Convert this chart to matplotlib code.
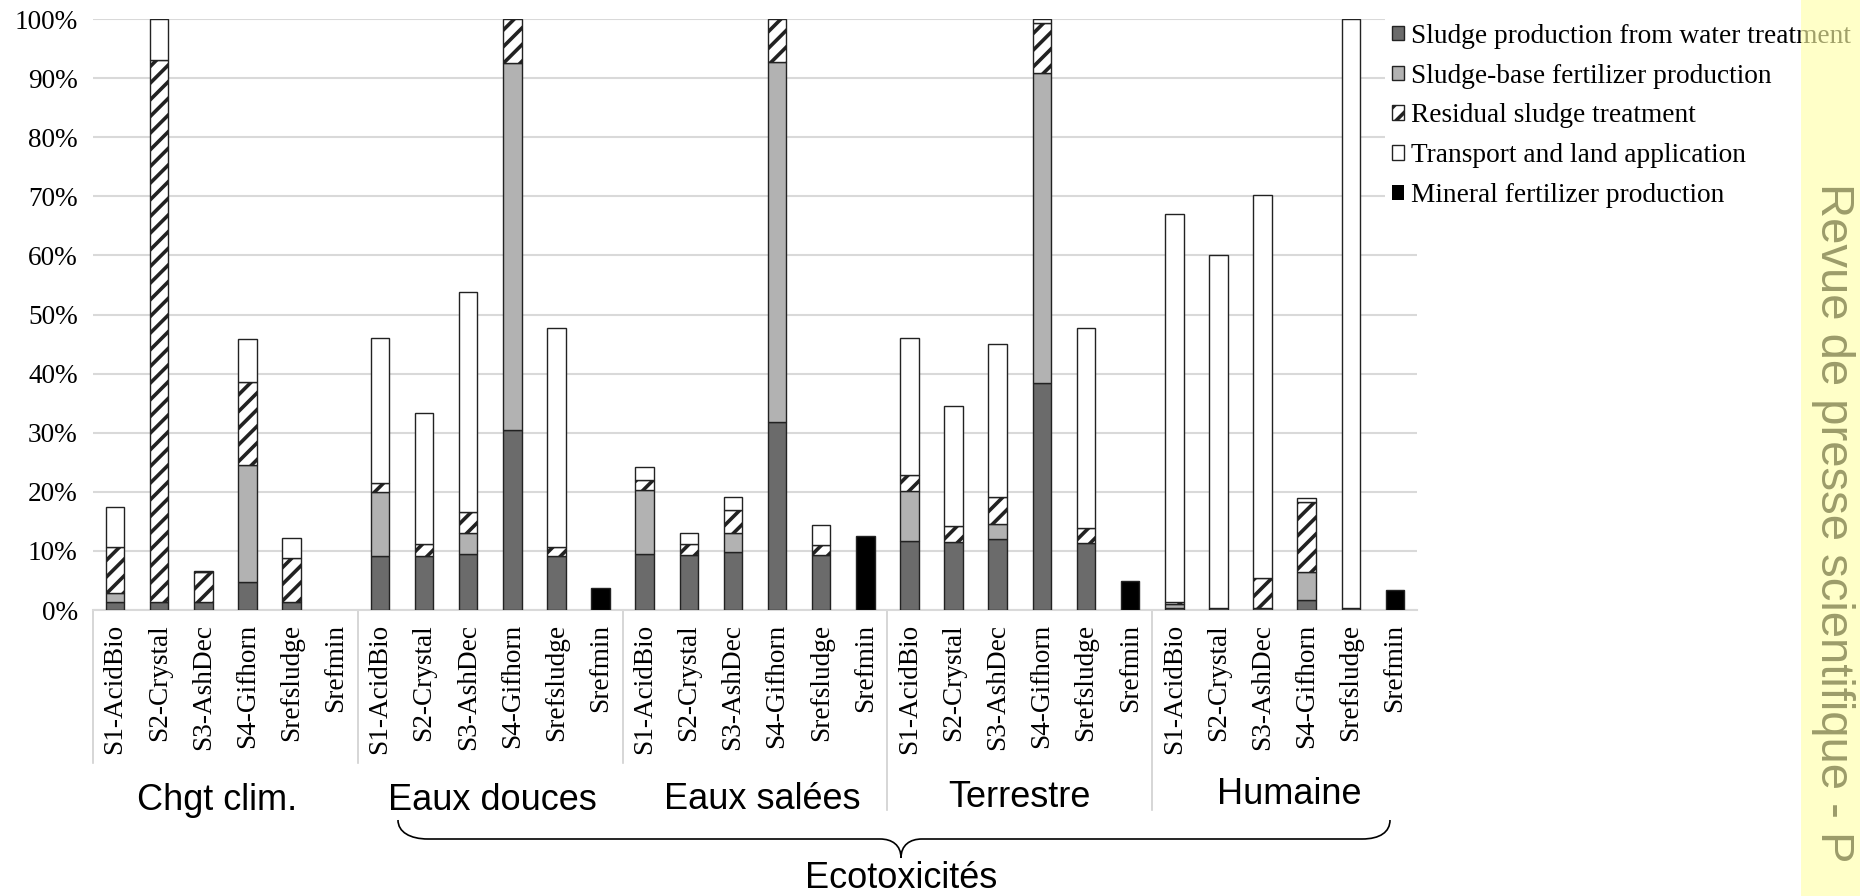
import matplotlib
matplotlib.use('Agg')
import matplotlib.pyplot as plt
import numpy as np
from matplotlib.patches import Rectangle, PathPatch
from matplotlib.path import Path
from matplotlib.transforms import blended_transform_factory

plt.rcParams['font.family'] = 'Liberation Serif'
plt.rcParams['hatch.linewidth'] = 2.6

groups = ['Chgt clim.', 'Eaux douces', 'Eaux salées', 'Terrestre', 'Humaine']
scenarios = ['S1-AcidBio', 'S2-Crystal', 'S3-AshDec', 'S4-Gifhorn', 'Srefsludge', 'Srefmin']
series_names = ['Sludge production from water treatment',
                'Sludge-base fertilizer production',
                'Residual sludge treatment',
                'Transport and land application',
                'Mineral fertilizer production']

# contributions in %, 6 scenarios per impact category
sludge_prod = [1.4, 1.4, 1.4, 4.8, 1.3, 0,
               9.1, 9.1, 9.5, 30.5, 9.1, 0,
               9.5, 9.3, 9.8, 31.8, 9.3, 0,
               11.6, 11.5, 12.0, 38.4, 11.4, 0,
               0.4, 0.3, 0.3, 1.7, 0.3, 0]
fert_prod = [1.5, 0, 0, 19.7, 0, 0,
             10.8, 0, 3.6, 62.0, 0, 0,
             10.8, 0, 3.3, 61.0, 0, 0,
             8.6, 0, 2.6, 52.4, 0, 0,
             0.6, 0, 0, 4.8, 0, 0]
residual = [7.7, 91.7, 5.0, 14.1, 7.5, 0,
            1.6, 2.0, 3.5, 7.5, 1.6, 0,
            1.7, 1.8, 3.9, 7.2, 1.7, 0,
            2.6, 2.7, 4.6, 8.6, 2.4, 0,
            0.4, 0, 5.1, 11.8, 0, 0]
transport = [6.9, 6.9, 0.2, 7.2, 3.4, 0,
             24.6, 22.2, 37.2, 0, 37.1, 0,
             2.2, 2.0, 2.2, 0, 3.4, 0,
             23.2, 20.3, 25.8, 0.6, 34.0, 0,
             65.6, 59.8, 64.9, 0.6, 99.7, 0]
mineral = [0, 0, 0, 0, 0, 0,
           0, 0, 0, 0, 0, 3.8,
           0, 0, 0, 0, 0, 12.5,
           0, 0, 0, 0, 0, 4.9,
           0, 0, 0, 0, 0, 3.3]

W, H = 1860, 896

def fx(px):
    return px / W

def fy(py):
    return 1 - py / H

fig = plt.figure(figsize=(W / 100, H / 100), dpi=100)
ax = fig.add_axes([fx(93), fy(610), 1324 / W, 591 / H])

x = np.arange(len(groups) * len(scenarios))
styles = [dict(color='#6b6b6b'),
          dict(color='#b2b2b2'),
          dict(color='white', hatch='//'),
          dict(color='white'),
          dict(color='black')]
bottom = np.zeros(len(x))
for name, vals, st in zip(series_names,
                          [sludge_prod, fert_prod, residual, transport, mineral],
                          styles):
    vals = np.array(vals)
    # no outline for empty segments
    lw = np.where(vals > 0, 1.0, 0.0)
    ax.bar(x, vals, 0.42, bottom=bottom, label=name, edgecolor='#222222',
           linewidth=lw, zorder=3, **st)
    bottom += vals

ax.set_xlim(-0.5, len(x) - 0.5)
ax.set_ylim(0, 100)
ax.set_yticks(range(0, 101, 10))
ax.set_yticklabels([f'{v}%' for v in range(0, 101, 10)], fontsize=19.6)
ax.set_xticks(x)
ax.set_xticklabels(scenarios * len(groups), rotation=90, fontsize=19.6)
ax.tick_params(axis='x', length=0, pad=10)
ax.tick_params(axis='y', length=0, pad=11)
ax.grid(axis='y', color='#d9d9d9', linewidth=1.5)
ax.set_axisbelow(True)
for s in ['top', 'left', 'right']:
    ax.spines[s].set_visible(False)
ax.spines['bottom'].set_color('#d9d9d9')
ax.spines['bottom'].set_linewidth(1.5)

# separators between impact categories below the axis
xt = ax.get_xaxis_transform()
sep_ends = [763, 763, 763, 810, 810]
for k, end in enumerate(sep_ends):
    ax.plot([6 * k - 0.5] * 2, [0, -(end - 610) / 591], transform=xt,
            color='#d0d0d0', linewidth=1.2, clip_on=False)

# impact category names
bt = blended_transform_factory(ax.transData, fig.transFigure)
label_x = [2.3, 8.56, 14.66, 20.49, 26.61]
label_base = [810, 810, 809, 807, 804]
for name, lx, lb in zip(groups, label_x, label_base):
    ax.text(lx, fy(lb), name, transform=bt, ha='center', va='baseline',
            family='Liberation Sans', fontsize=26, clip_on=False)

# curly brace grouping the ecotoxicity categories
pts = [(398, 820), (398, 832), (410, 839), (428, 839),
       (880, 839),
       (892, 839), (901, 845), (901, 858),
       (901, 845), (910, 839), (922, 839),
       (1362, 839),
       (1380, 839), (1390, 832), (1390, 820)]
codes = [Path.MOVETO, Path.CURVE4, Path.CURVE4, Path.CURVE4,
         Path.LINETO,
         Path.CURVE4, Path.CURVE4, Path.CURVE4,
         Path.CURVE4, Path.CURVE4, Path.CURVE4,
         Path.LINETO,
         Path.CURVE4, Path.CURVE4, Path.CURVE4]
brace = Path([(fx(px), fy(py)) for px, py in pts], codes)
fig.add_artist(PathPatch(brace, transform=fig.transFigure, facecolor='none',
                         edgecolor='black', linewidth=1.2))
fig.text(fx(901), fy(888), 'Ecotoxicités', ha='center', va='baseline',
         family='Liberation Sans', fontsize=26)

ax.legend(loc='upper left', bbox_to_anchor=(fx(1385), fy(17)),
          bbox_transform=fig.transFigure, fontsize=19.7, frameon=True,
          facecolor='white', edgecolor='none', framealpha=1, fancybox=False,
          borderpad=0.25, borderaxespad=0, handlelength=0.45,
          handleheight=0.45, handletextpad=0.25, labelspacing=0.54)

# side banner
fig.add_artist(Rectangle((fx(1801), 0), 1 - fx(1801), 1, transform=fig.transFigure,
                         facecolor=(1, 1, 0.66), alpha=0.63, edgecolor='none',
                         zorder=5))
fig.text(fx(1821), fy(183), 'Revue de presse scientifique - P', rotation=-90,
         rotation_mode='anchor', ha='left', va='baseline',
         family='Liberation Sans', fontsize=34, color='#9c9c6a', zorder=6)

fig.savefig('out.png', dpi=100)
